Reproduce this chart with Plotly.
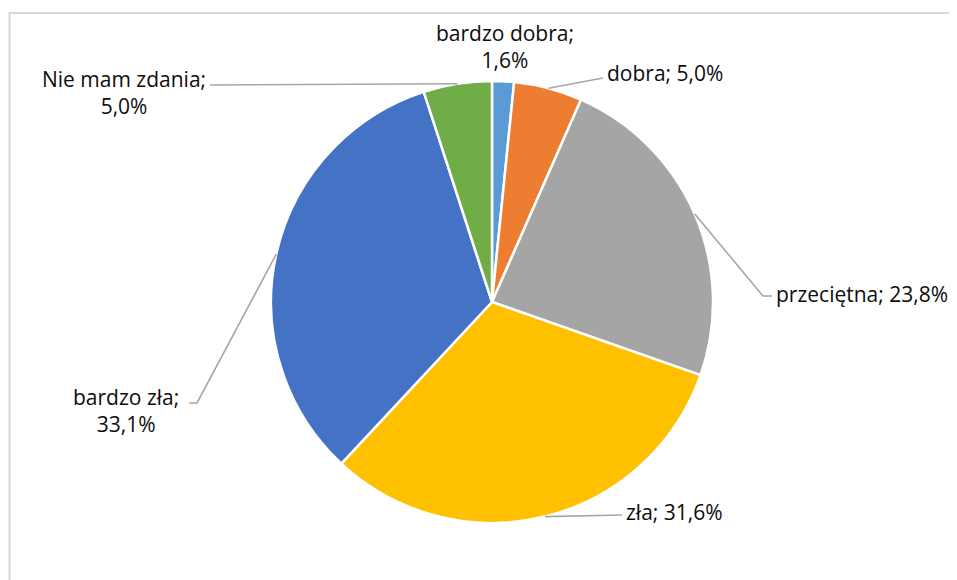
import math
import plotly.graph_objects as go

# ---- data ----
categories = ["bardzo dobra", "dobra", "przeciętna", "zła", "bardzo zła", "Nie mam zdania"]
values = [1.6, 5.0, 23.8, 31.6, 33.1, 5.0]
value_labels = ["1,6%", "5,0%", "23,8%", "31,6%", "33,1%", "5,0%"]
colors = ["#5B9BD5", "#ED7D31", "#A5A5A5", "#FFC000", "#4472C4", "#70AD47"]

# ---- layout geometry (pixels in the screenshot) ----
W, H = 957, 580
OFF = 8  # page body margin
CX, CY, R = 492, 302, 221

def px(x):
    return (x - OFF) / W

def py(y):
    return 1 - (y - OFF) / H

label_layout = [
    dict(text="bardzo dobra;<br>1,6%", x=505, y=47, xanchor="center", path=None),
    dict(text="dobra; 5,0%", x=605, y=73, xanchor="left", path=[(603, 78)]),
    dict(text="przeciętna; 23,8%", x=774, y=294, xanchor="left", path=[(763, 296), (772, 296)]),
    dict(text="zła; 31,6%", x=624, y=512, xanchor="left", path=[(622, 515)]),
    dict(text="bardzo zła;<br>33,1%", x=126, y=410, xanchor="center", path=[(197, 403), (189, 403)]),
    dict(text="Nie mam zdania;<br>5,0%", x=124, y=92, xanchor="center", path=[(210, 85)]),
]

fig = go.Figure(go.Pie(
    labels=categories,
    values=values,
    sort=False,
    direction="clockwise",
    rotation=0,
    marker=dict(colors=colors, line=dict(color="white", width=2.5)),
    textinfo="none",
    hoverinfo="label+percent",
    domain=dict(x=[px(CX - R), px(CX + R)], y=[py(CY + R), py(CY - R)]),
    showlegend=False,
))

total = sum(values)
cum = 0.0
shapes = []
annotations = []
for cat, v, lab in zip(categories, values, label_layout):
    mid = (cum + v / 2) / total * 2 * math.pi
    cum += v
    sx = CX + R * math.sin(mid)
    sy = CY - R * math.cos(mid)
    if lab["path"]:
        pts = [(sx, sy)] + lab["path"]
        d = "M " + " L ".join(f"{px(x):.5f},{py(y):.5f}" for x, y in pts)
        shapes.append(dict(type="path", xref="paper", yref="paper", path=d,
                           line=dict(color="#A6A6A6", width=1.6)))
    annotations.append(dict(
        text=lab["text"], x=px(lab["x"]), y=py(lab["y"]), xref="paper", yref="paper",
        xanchor=lab["xanchor"], yanchor="middle", showarrow=False, align="center",
        font=dict(family="Open Sans", size=21, color="#0d0d0d"),
    ))

# outer chart-area border
shapes.append(dict(type="rect", xref="paper", yref="paper",
                   x0=px(9.5), x1=px(975), y0=py(600), y1=py(13),
                   line=dict(color="#D9D9D9", width=2), fillcolor="rgba(0,0,0,0)"))

fig.update_layout(
    width=W, height=H,
    margin=dict(l=0, r=0, t=0, b=0),
    paper_bgcolor="white",
    plot_bgcolor="white",
    shapes=shapes,
    annotations=annotations,
)

fig.write_html("out.html")
